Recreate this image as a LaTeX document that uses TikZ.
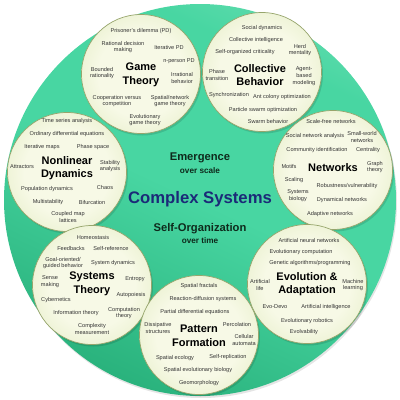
\documentclass[tikz,border=0pt]{standalone}
\usepackage{fontspec}
\setmainfont{Liberation Sans}
\definecolor{bgdark}{HTML}{26AE78}
\definecolor{bgmid}{HTML}{48D6A2}
\definecolor{bglight}{HTML}{A6EDCF}
\definecolor{bubin}{HTML}{F7F9E6}
\definecolor{bubout}{HTML}{D2E1A6}
\definecolor{bubline}{HTML}{97A56C}
\definecolor{navy}{HTML}{1B2A78}
\definecolor{darkgr}{HTML}{0E2A1C}
\definecolor{itemcol}{HTML}{333333}
\pgfdeclareradialshading{bubshade}{\pgfpoint{0bp}{0bp}}{color(0bp)=(bubin); color(18bp)=(bubin); color(50bp)=(bubout)}
\pgfdeclareverticalshading{bigshade}{100bp}{color(0bp)=(bgdark); color(22bp)=(bgdark); color(50bp)=(bgmid); color(70bp)=(bgmid); color(100bp)=(bglight)}
\tikzset{
  bubble/.style={circle, minimum size=119pt, inner sep=0, shading=bubshade, draw=bubline, line width=0.7pt},
  item/.style={font=\fontsize{5.6}{6.8}\selectfont, text=itemcol, align=center, inner sep=0},
  ttl/.style={font=\bfseries\fontsize{11}{13.5}\selectfont, text=black, align=center, inner sep=0},
  captxt/.style={font=\bfseries\fontsize{11.2}{12}\selectfont, text=darkgr, align=center, inner sep=0},
  subcaptxt/.style={font=\bfseries\fontsize{8.2}{10}\selectfont, text=darkgr, align=center, inner sep=0}
}
\begin{document}
\begin{tikzpicture}[x=1pt,y=-1pt]
\useasboundingbox (0,0) rectangle (400,400);
% big background circle
\fill[black, opacity=0.10] (201,202) circle (196);
\shade[shading=bigshade, shading angle=-25] (200,200) circle (196);
% bubble shadows
\foreach \cx/\cy in {141/74,262/72,67/172,333/170,92/285,307/284,199/335}
  \fill[black, opacity=0.12] (\cx+1.5,\cy+2) circle (59.5);
% bubbles
\node[bubble] (gtc) at (141,74) {};
\node[bubble] (cbc) at (262,72) {};
\node[bubble] (ndc) at (67,172) {};
\node[bubble] (nwc) at (333,170) {};
\node[bubble] (stc) at (92,285) {};
\node[bubble] (eac) at (307,284) {};
\node[bubble] (pfc) at (199,335) {};
% centre text
\node[captxt] (em) at (200,158) {Emergence};
\node[subcaptxt] (os) at (200,171) {over scale};
\node[font=\bfseries\fontsize{16.7}{18}\selectfont, text=navy, inner sep=0] (cs) at (200,199) {Complex Systems};
\node[captxt] (so) at (200,229) {Self-Organization};
\node[subcaptxt] (ot) at (200,241) {over time};
% Game Theory
\node[ttl] (gt) at (141,75) {Game\\Theory};
\node[item] (gt1) at (141,31) {Prisoner's dilemma (PD)};
\node[item] (gt2) at (123,47) {Rational decision\\making};
\node[item] (gt3) at (169,47) {Iterative PD};
\node[item] (gt4) at (179,61) {n-person PD};
\node[item] (gt5) at (102,73) {Bounded\\rationality};
\node[item] (gt6) at (182,78) {Irrational\\behavior};
\node[item] (gt7) at (117,101) {Cooperation versus\\competition};
\node[item] (gt8) at (170,101) {Spatial/network\\game theory};
\node[item] (gt9) at (145,120) {Evolutionary\\game theory};
% Collective Behavior
\node[ttl] (cb) at (260,75) {Collective\\Behavior};
\node[item] (cb1) at (262,28) {Social dynamics};
\node[item] (cb2) at (256,40) {Collective intelligence};
\node[item] (cb3) at (245,52) {Self-organized criticality};
\node[item] (cb4) at (300,50) {Herd\\mentality};
\node[item] (cb5) at (217,75) {Phase\\transition};
\node[item] (cb6) at (304,76) {Agent-\\based\\modeling};
\node[item] (cb7) at (229,95) {Synchronization};
\node[item] (cb8) at (282,97) {Ant colony optimization};
\node[item] (cb9) at (263,110) {Particle swarm optimization};
\node[item] (cb10) at (268,121) {Swarm behavior};
% Nonlinear Dynamics
\node[ttl] (nd) at (67,168) {Nonlinear\\Dynamics};
\node[item] (nd1) at (67,121) {Time series analysis};
\node[item] (nd2) at (67,134) {Ordinary differential equations};
\node[item] (nd3) at (42,147) {Iterative maps};
\node[item] (nd4) at (93,147) {Phase space};
\node[item] (nd5) at (22,167) {Attractors};
\node[item] (nd6) at (110,166) {Stability\\analysis};
\node[item] (nd7) at (105,187) {Chaos};
\node[item] (nd8) at (47,189) {Population dynamics};
\node[item] (nd9) at (48,202) {Multistability};
\node[item] (nd10) at (92,202) {Bifurcation};
\node[item] (nd11) at (68,217) {Coupled map\\lattices};
% Networks
\node[ttl] (nw) at (333,168) {Networks};
\node[item] (nw1) at (331,121) {Scale-free networks};
\node[item] (nw2) at (315,136) {Social network analysis};
\node[item] (nw3) at (362,137) {Small-world\\networks};
\node[item] (nw4) at (317,150) {Community identification};
\node[item] (nw5) at (368,150) {Centrality};
\node[item] (nw6) at (289,166) {Motifs};
\node[item] (nw7) at (375,167) {Graph\\theory};
\node[item] (nw8) at (294,180) {Scaling};
\node[item] (nw9) at (347,186) {Robustness/vulnerability};
\node[item] (nw10) at (298,196) {Systems\\biology};
\node[item] (nw11) at (342,200) {Dynamical networks};
\node[item] (nw12) at (330,214) {Adaptive networks};
% Systems Theory
\node[ttl] (st) at (92,284) {Systems\\Theory};
\node[item] (st1) at (93,237) {Homeostasis};
\node[item] (st2) at (71,248) {Feedbacks};
\node[item] (st3) at (111,248) {Self-reference};
\node[item] (st4) at (63,263) {Goal-oriented/\\guided behavior};
\node[item] (st5) at (113,263) {System dynamics};
\node[item] (st6) at (50,282) {Sense\\making};
\node[item] (st7) at (135,279) {Entropy};
\node[item] (st8) at (131,295) {Autopoiesis};
\node[item] (st9) at (56,300) {Cybernetics};
\node[item] (st10) at (76,313) {Information theory};
\node[item] (st11) at (124,313) {Computation\\theory};
\node[item] (st12) at (92,329) {Complexity\\measurement};
% Evolution & Adaptation
\node[ttl] (ea) at (307,284) {Evolution \&\\Adaptation};
\node[item] (ea1) at (309,240) {Artificial neural networks};
\node[item] (ea2) at (301,252) {Evolutionary computation};
\node[item] (ea3) at (310,263) {Genetic algorithms/programming};
\node[item] (ea4) at (260,285) {Artificial\\life};
\node[item] (ea5) at (353,285) {Machine\\learning};
\node[item] (ea6) at (275,307) {Evo-Devo};
\node[item] (ea7) at (326,307) {Artificial intelligence};
\node[item] (ea8) at (307,321) {Evolutionary robotics};
\node[item] (ea9) at (304,332) {Evolvability};
% Pattern Formation
\node[ttl] (pf) at (199,336) {Pattern\\Formation};
\node[item] (pf1) at (199,286) {Spatial fractals};
\node[item] (pf2) at (203,299) {Reaction-diffusion systems};
\node[item] (pf3) at (195,312) {Partial differential equations};
\node[item] (pf4) at (158,328) {Dissipative\\structures};
\node[item] (pf5) at (237,324) {Percolation};
\node[item] (pf6) at (244,340) {Cellular\\automata};
\node[item] (pf7) at (175,358) {Spatial ecology};
\node[item] (pf8) at (228,357) {Self-replication};
\node[item] (pf9) at (198,370) {Spatial evolutionary biology};
\node[item] (pf10) at (199,383) {Geomorphology};
\end{tikzpicture}
\end{document}
